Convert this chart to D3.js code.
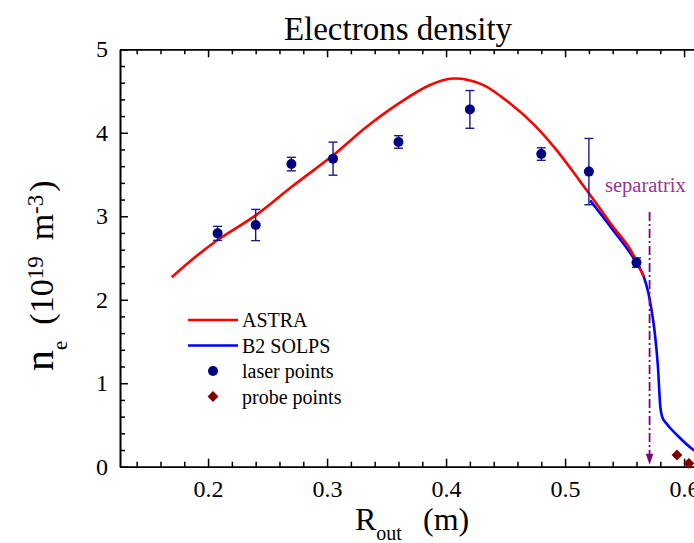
<!DOCTYPE html>
<html>
<head>
<meta charset="utf-8">
<script src="https://cdn.jsdelivr.net/npm/d3@7"></script>
<style>
body { margin: 0; background: #fff; }
svg text { font-family: "Liberation Serif", "Times New Roman", serif; }
</style>
</head>
<body>
<div id="chart"></div>
<script>
// ASTRA profile
var astraR = [0.1695, 0.19, 0.208, 0.24, 0.27, 0.305, 0.333, 0.36, 0.386, 0.406, 0.43, 0.453, 0.473, 0.493, 0.512, 0.529, 0.540, 0.554, 0.566];
var astraN = [2.27, 2.52, 2.715, 3.01, 3.35, 3.73, 4.07, 4.35, 4.57, 4.65, 4.58, 4.36, 4.11, 3.79, 3.43, 3.10, 2.88, 2.62, 2.28];

// B2 SOLPS profile
var solpsR = [0.521, 0.540, 0.560, 0.566, 0.570, 0.5726, 0.5754, 0.578, 0.580, 0.5815, 0.585, 0.594, 0.608, 0.625];
var solpsN = [3.19, 2.84, 2.44, 2.28, 2.08, 1.88, 1.60, 1.20, 0.72, 0.60, 0.52, 0.38, 0.20, 0.08];

// laser points with error bars
var laserR = [0.208, 0.24, 0.27, 0.305, 0.36, 0.42, 0.48, 0.52, 0.56];
var laserN = [2.795, 2.895, 3.625, 3.69, 3.89, 4.28, 3.745, 3.535, 2.445];
var laserErr = [0.084, 0.187, 0.081, 0.198, 0.075, 0.226, 0.075, 0.397, 0.056];

// probe points
var probeR = [0.594, 0.604];
var probeN = [0.14, 0.04];

var separatrixR = 0.571;
var separatrixTop = 3.05;

var xMajor = [0.2, 0.3, 0.4, 0.5, 0.6];
var yMajor = [0, 1, 2, 3, 4, 5];
var legendLabels = ["ASTRA", "B2 SOLPS", "laser points", "probe points"];

var fw = 694, fh = 543;

var svg = d3.select("#chart")
	.append("svg")
	.attr("width", fw)
	.attr("height", fh);

var x = d3.scaleLinear().domain([0.126, 0.65]).range([120, 743.6]);
var y = d3.scaleLinear().domain([0, 5]).range([466.7, 49.3]);

var xMinor = d3.range(0.14, 0.65, 0.02).filter(function(v) { return Math.abs(v * 10 - Math.round(v * 10)) > 0.01; });
var yMinor = d3.range(0.2, 5, 0.2).filter(function(v) { return Math.abs(v - Math.round(v)) > 0.01; });

function styleAxis(g) {
	g.attr("font-family", "Liberation Serif, serif").attr("font-size", 24);
	g.selectAll("path.domain").attr("stroke", "#000").attr("stroke-width", 1.6);
	g.selectAll(".tick line").attr("stroke", "#000").attr("stroke-width", 1.5);
	g.selectAll(".tick text").attr("fill", "#000");
}

// bottom axis
svg.append("g")
	.attr("transform", "translate(0," + y(0) + ")")
	.call(d3.axisBottom(x).tickValues(xMajor).tickSize(-8).tickSizeOuter(0).tickPadding(13).tickFormat(d3.format(".1f")))
	.call(styleAxis);
svg.append("g")
	.attr("transform", "translate(0," + y(0) + ")")
	.call(d3.axisBottom(x).tickValues(xMinor).tickSize(-5).tickSizeOuter(0).tickFormat(""))
	.call(styleAxis);

// top axis
svg.append("g")
	.attr("transform", "translate(0," + y(5) + ")")
	.call(d3.axisTop(x).tickValues(xMajor).tickSize(-8).tickSizeOuter(0).tickFormat(""))
	.call(styleAxis);
svg.append("g")
	.attr("transform", "translate(0," + y(5) + ")")
	.call(d3.axisTop(x).tickValues(xMinor).tickSize(-5).tickSizeOuter(0).tickFormat(""))
	.call(styleAxis);

// left axis
svg.append("g")
	.attr("transform", "translate(" + x(0.126) + ",0)")
	.call(d3.axisLeft(y).tickValues(yMajor).tickSize(-8).tickSizeOuter(0).tickPadding(12).tickFormat(d3.format("d")))
	.call(styleAxis);
svg.append("g")
	.attr("transform", "translate(" + x(0.126) + ",0)")
	.call(d3.axisLeft(y).tickValues(yMinor).tickSize(-5).tickSizeOuter(0).tickFormat(""))
	.call(styleAxis);

// right axis (outside the visible window)
svg.append("g")
	.attr("transform", "translate(" + x(0.65) + ",0)")
	.call(d3.axisRight(y).tickValues(yMajor).tickSize(-8).tickSizeOuter(0).tickFormat(""))
	.call(styleAxis);

// curves
var solpsLine = d3.line()
	.x(function(d) { return x(d[0]); })
	.y(function(d) { return y(d[1]); })
	.curve(d3.curveMonotoneX);

var astraLine = d3.line()
	.x(function(d) { return x(d[0]); })
	.y(function(d) { return y(d[1]); })
	.curve(d3.curveCatmullRom.alpha(0.5));

svg.append("path")
	.datum(d3.zip(solpsR, solpsN))
	.attr("d", solpsLine)
	.attr("fill", "none")
	.attr("stroke", "#0000ff")
	.attr("stroke-width", 2.6);

svg.append("path")
	.datum(d3.zip(astraR, astraN))
	.attr("d", astraLine)
	.attr("fill", "none")
	.attr("stroke", "#ff0000")
	.attr("stroke-width", 2.6);

// laser points
var laser = d3.zip(laserR, laserN, laserErr);

var eb = svg.append("g").attr("stroke", "#1a1a8c").attr("stroke-width", 1.4);
eb.selectAll("line.v")
	.data(laser)
	.enter().append("line")
	.attr("class", "v")
	.attr("x1", function(d) { return x(d[0]); })
	.attr("x2", function(d) { return x(d[0]); })
	.attr("y1", function(d) { return y(d[1] - d[2]); })
	.attr("y2", function(d) { return y(d[1] + d[2]); });
eb.selectAll("line.top")
	.data(laser)
	.enter().append("line")
	.attr("x1", function(d) { return x(d[0]) - 4.5; })
	.attr("x2", function(d) { return x(d[0]) + 4.5; })
	.attr("y1", function(d) { return y(d[1] + d[2]); })
	.attr("y2", function(d) { return y(d[1] + d[2]); });
eb.selectAll("line.bot")
	.data(laser)
	.enter().append("line")
	.attr("x1", function(d) { return x(d[0]) - 4.5; })
	.attr("x2", function(d) { return x(d[0]) + 4.5; })
	.attr("y1", function(d) { return y(d[1] - d[2]); })
	.attr("y2", function(d) { return y(d[1] - d[2]); });

svg.selectAll("circle.laser")
	.data(laser)
	.enter().append("circle")
	.attr("class", "laser")
	.attr("cx", function(d) { return x(d[0]); })
	.attr("cy", function(d) { return y(d[1]); })
	.attr("r", 5)
	.attr("fill", "#000080");

// probe points
var diamond = d3.symbol().type(d3.symbolDiamond2).size(75);
svg.selectAll("path.probe")
	.data(d3.zip(probeR, probeN))
	.enter().append("path")
	.attr("class", "probe")
	.attr("d", diamond)
	.attr("transform", function(d) { return "translate(" + x(d[0]) + "," + y(d[1]) + ")"; })
	.attr("fill", "#800000");

// separatrix
var sx = x(separatrixR);
svg.append("line")
	.attr("x1", sx).attr("x2", sx)
	.attr("y1", y(separatrixTop)).attr("y2", y(0) - 12)
	.attr("stroke", "#800080")
	.attr("stroke-width", 1.8)
	.attr("stroke-dasharray", "9,3,2,3");
svg.append("path")
	.attr("d", "M" + (sx - 3.8) + "," + (y(0) - 13) + "L" + (sx + 3.8) + "," + (y(0) - 13) + "L" + sx + "," + (y(0) - 2) + "Z")
	.attr("fill", "#800080");
svg.append("text")
	.attr("x", 605)
	.attr("y", 192)
	.attr("font-size", 20.5)
	.attr("fill", "#993399")
	.text("separatrix");

// legend
var lg = svg.append("g").attr("transform", "translate(188,320)");
var legendColors = ["#ff0000", "#0000ff", "#000080", "#800000"];
legendLabels.forEach(function(lab, i) {
	var ly = i * 25.5;
	if (i < 2) {
		lg.append("line")
			.attr("x1", 0).attr("x2", 50)
			.attr("y1", ly).attr("y2", ly)
			.attr("stroke", legendColors[i])
			.attr("stroke-width", 2.6);
	} else if (i == 2) {
		lg.append("circle").attr("cx", 25).attr("cy", ly).attr("r", 5).attr("fill", legendColors[i]);
	} else {
		lg.append("path").attr("d", diamond).attr("transform", "translate(25," + ly + ")").attr("fill", legendColors[i]);
	}
	lg.append("text")
		.attr("x", 54)
		.attr("y", ly + 7)
		.attr("font-size", 20)
		.attr("fill", "#000")
		.text(lab);
});

// title
svg.append("text")
	.attr("x", 398)
	.attr("y", 40)
	.attr("text-anchor", "middle")
	.attr("font-size", 33)
	.text("Electrons density");

// x axis title
var xt = svg.append("text").attr("x", 355).attr("y", 530).attr("font-size", 32);
xt.append("tspan").text("R");
xt.append("tspan").attr("font-size", 20).attr("dy", 10).text("out");
xt.append("tspan").attr("x", 423).attr("dy", -10).text("(m)");

// y axis title
var yt = svg.append("text")
	.attr("transform", "translate(53,371) rotate(-90)")
	.attr("font-size", 34);
yt.append("tspan").attr("font-size", 42).text("n");
yt.append("tspan").attr("font-size", 21).attr("dy", 14).text("e");
yt.append("tspan").attr("dx", 16).attr("dy", -14).text("(10");
yt.append("tspan").attr("font-size", 23).attr("dy", -10).text("19");
yt.append("tspan").attr("dx", 16).attr("dy", 10).text("m");
yt.append("tspan").attr("font-size", 23).attr("dy", -10).text("-3");
yt.append("tspan").attr("dx", 3).attr("dy", 10).text(")");
</script>
</body>
</html>
